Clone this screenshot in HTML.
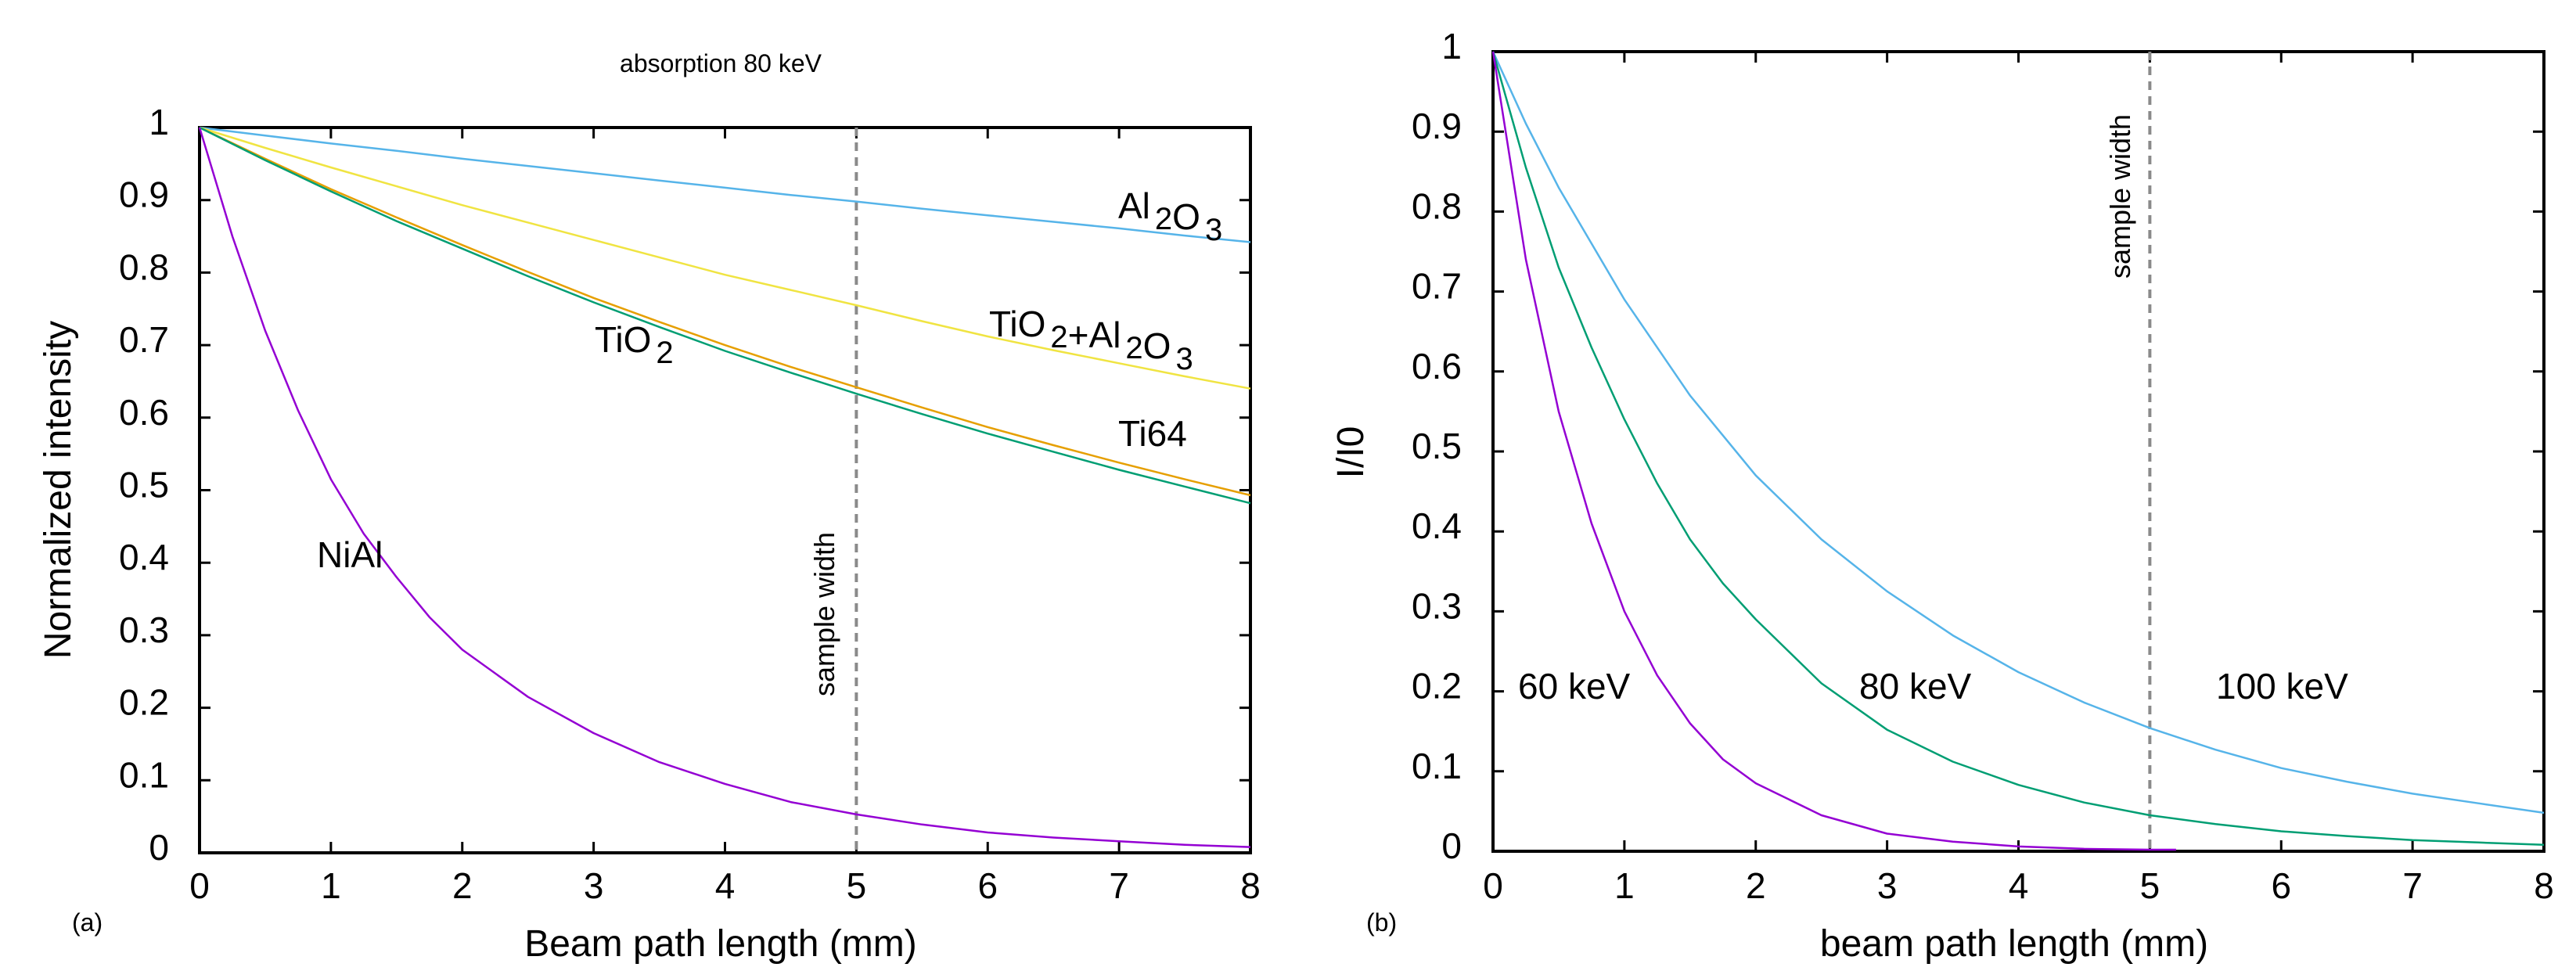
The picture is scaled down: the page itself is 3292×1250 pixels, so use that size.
<!DOCTYPE html>
<html><head><meta charset="utf-8">
<style>
html,body{margin:0;padding:0;background:#fff;}
svg{display:block;font-family:"Liberation Sans",sans-serif;}
</style></head>
<body>
<svg id="fig" width="3292" height="1250" viewBox="0 0 3292 1250" xmlns="http://www.w3.org/2000/svg">
<g id="pa"></g>
<g id="pb"></g>
</svg>
<script>
// Panel (a) data
const xsA = [0,0.5,1,1.5,2,2.5,3,3.5,4,4.5,5,5.5,6,6.5,7,7.5,8];
const al2o3 = [1,0.989,0.978,0.968,0.957,0.947,0.937,0.927,0.917,0.907,0.898,0.888,0.879,0.870,0.861,0.851,0.842];
const tio2al2o3 = [1,0.972,0.945,0.919,0.893,0.869,0.845,0.821,0.797,0.776,0.755,0.733,0.712,0.693,0.675,0.657,0.640];
const ti64 = [1,0.957,0.915,0.876,0.838,0.801,0.765,0.732,0.700,0.670,0.642,0.614,0.587,0.562,0.538,0.515,0.493];
const tio2 = [1,0.955,0.912,0.871,0.833,0.795,0.759,0.725,0.692,0.662,0.633,0.605,0.578,0.553,0.528,0.505,0.482];
const xsNiAl = [0,0.25,0.5,0.75,1,1.25,1.5,1.75,2,2.5,3,3.5,4,4.5,5,5.5,6,6.5,7,7.5,8];
const nial = [1,0.85,0.72,0.61,0.515,0.44,0.38,0.325,0.28,0.215,0.165,0.125,0.095,0.07,0.053,0.039,0.028,0.021,0.016,0.011,0.008];
// Panel (b) data
const xsB = [0,0.25,0.5,0.75,1,1.25,1.5,1.75,2,2.5,3,3.5,4,4.5,5,5.5,6,6.5,7,7.5,8];
const kev100 = [1,0.91,0.83,0.76,0.69,0.63,0.57,0.52,0.47,0.39,0.325,0.27,0.224,0.186,0.154,0.127,0.104,0.087,0.072,0.060,0.048];
const kev80 = [1,0.855,0.73,0.63,0.54,0.46,0.39,0.335,0.29,0.21,0.152,0.112,0.083,0.061,0.045,0.034,0.025,0.019,0.014,0.011,0.008];
const xs60 = [0,0.25,0.5,0.75,1,1.25,1.5,1.75,2,2.5,3,3.5,4,4.5,5,5.2];
const kev60 = [1,0.74,0.55,0.41,0.30,0.22,0.16,0.115,0.085,0.045,0.022,0.012,0.006,0.003,0.002,0.002];
const xTicks = [0,1,2,3,4,5,6,7,8];
const yTicks = [0,0.1,0.2,0.3,0.4,0.5,0.6,0.7,0.8,0.9,1];
const yTickLabels = ["0","0.1","0.2","0.3","0.4","0.5","0.6","0.7","0.8","0.9","1"];

const NS="http://www.w3.org/2000/svg";
function mk(parent,tag,attrs,text){const e=document.createElementNS(NS,tag);for(const k in attrs)e.setAttribute(k,attrs[k]);if(text!==undefined)e.textContent=text;parent.appendChild(e);return e;}

function panel(g,L,R,T,B,tickX){
  const sx=v=>L+(R-L)*v/8, sy=v=>B-(B-T)*v;
  const frame=mk(g,'rect',{x:L,y:T,width:R-L,height:B-T,fill:'none',stroke:'#000','stroke-width':4});
  
  
  xTicks.forEach(t=>{
    const x=sx(t);
    const tk=mk(g,'path',{d:`M${x},${B}v-14M${x},${T}v14`,stroke:'#000','stroke-width':3});
    
    
    const lb=mk(g,'text',{x:x,y:1148,'font-size':46,'text-anchor':'middle',fill:'#000'},String(t));
    
    
  });
  yTicks.forEach((t,i)=>{
    const y=sy(t);
    const tk=mk(g,'path',{d:`M${L},${y}h14M${R},${y}h-14`,stroke:'#000','stroke-width':3});
    
    
    const lb=mk(g,'text',{x:tickX,y:y+9,'font-size':46,'text-anchor':'end',fill:'#000'},yTickLabels[i]);
    
    
  });
  const dl=mk(g,'line',{x1:sx(5),x2:sx(5),y1:T,y2:B,stroke:'#8a8a8a','stroke-width':4,'stroke-dasharray':'11 8'});
  
  
  return {sx,sy};
}
function curve(g,ax,xs,ys,color,name){
  const d=xs.map((x,i)=>(i?'L':'M')+ax.sx(x).toFixed(1)+','+ax.sy(ys[i]).toFixed(1)).join('');
  const p=mk(g,'path',{d:d,fill:'none',stroke:color,'stroke-width':2.5,'stroke-linejoin':'round'});
  
  
}
function label(g,x,y,size,html,name,anchor){
  const t=mk(g,'text',{x:x,y:y,'font-size':size,fill:'#000','text-anchor':anchor||'start'});
  t.innerHTML=html;
  
  
  return t;
}
const sub=s=>`<tspan dx="6" dy="14" font-size="40">${s}</tspan><tspan dx="6" dy="-14"></tspan>`;

// Panel A
const ga=document.getElementById('pa');
const A=panel(ga,255,1598,163,1090,216);
curve(ga,A,xsA,al2o3,'#56b4e9','curve-al2o3');
curve(ga,A,xsA,tio2al2o3,'#f0e442','curve-tio2-al2o3');
curve(ga,A,xsA,ti64,'#e69f00','curve-ti64');
curve(ga,A,xsA,tio2,'#009e73','curve-tio2');
curve(ga,A,xsNiAl,nial,'#9400d3','curve-nial');
label(ga,921,92,32,'absorption 80 keV','chart-title','middle');
label(ga,921,1222,48,'Beam path length (mm)','x-axis-title','middle');
label(ga,92,1190,32,'(a)','panel-a-label');
label(ga,0,0,48,'Normalized intensity','y-axis-title','middle').setAttribute('transform','translate(90,626) rotate(-90)');
label(ga,1429,279,46,'Al'+sub(2)+'O'+sub(3),'label-al2o3');
label(ga,1264,430,46,'TiO'+sub(2)+'+Al'+sub(2)+'O'+sub(3),'label-tio2-al2o3');
label(ga,760,450,46,'TiO'+sub(2),'label-tio2');
label(ga,1429,570,46,'Ti64','label-ti64');
label(ga,405,725,46,'NiAl','label-nial');
label(ga,0,0,36,'sample width','sample-width-label','middle').setAttribute('transform','translate(1066,785) rotate(-90)');

// Panel B
const gb=document.getElementById('pb');
const Bx=panel(gb,1908,3251,66,1088,1868);
curve(gb,Bx,xsB,kev100,'#56b4e9','curve-100kev');
curve(gb,Bx,xsB,kev80,'#009e73','curve-80kev');
curve(gb,Bx,xs60,kev60,'#9400d3','curve-60kev');
label(gb,2574,1222,48,'beam path length (mm)','x-axis-title-b','middle');
label(gb,1746,1190,32,'(b)','panel-b-label');
label(gb,0,0,48,'I/I0','y-axis-title-b','middle').setAttribute('transform','translate(1742,578) rotate(-90)');
label(gb,1940,893,46,'60 keV','label-60kev');
label(gb,2376,893,46,'80 keV','label-80kev');
label(gb,2832,893,46,'100 keV','label-100kev');
label(gb,0,0,36,'sample width','sample-width-label-b','middle').setAttribute('transform','translate(2722,251) rotate(-90)');
</script>
</body></html>
